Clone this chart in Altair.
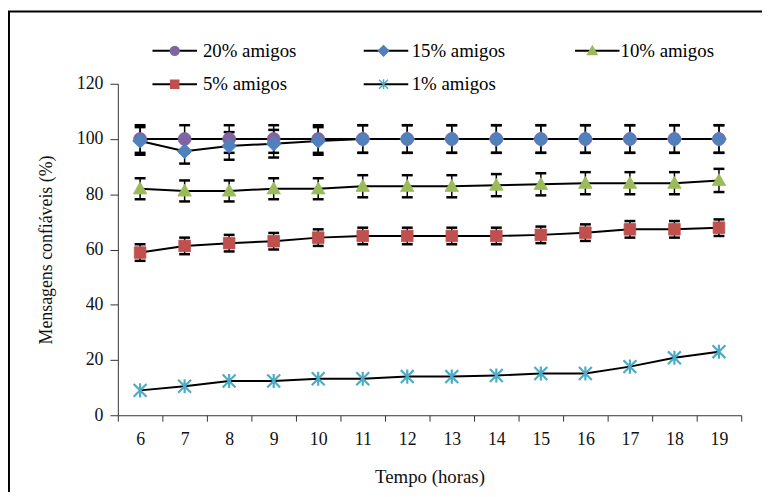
import altair as alt
import pandas as pd

# ---- data ----
horas = [6, 7, 8, 9, 10, 11, 12, 13, 14, 15, 16, 17, 18, 19]
series = ["20% amigos", "15% amigos", "10% amigos", "5% amigos", "1% amigos"]

v20 = [100, 100, 100, 100, 100, 100, 100, 100, 100, 100, 100, 100, 100, 100]
v15 = [99.3, 95.6, 97.5, 98.3, 99.3, 100, 100, 100, 100, 100, 100, 100, 100, 100]
v10 = [82.0, 81.2, 81.2, 82.0, 82.0, 82.9, 82.9, 82.9, 83.3, 83.6, 84.0, 84.0, 84.0, 85.0]
v5 = [58.9, 61.3, 62.3, 63.0, 64.3, 64.9, 64.9, 64.9, 64.9, 65.3, 66.1, 67.3, 67.3, 67.9]
v1 = [9.0, 10.5, 12.4, 12.4, 13.2, 13.2, 14.0, 14.0, 14.4, 15.1, 15.1, 17.6, 20.8, 23.0]

e20 = [5, 5, 5, 5, 5, 5, 5, 5, 5, 5, 5, 5, 5, 5]
e15 = [5, 4.5, 5, 5, 5, 5, 5, 5, 5, 5, 5, 5, 5, 5]
e10 = [3.8, 3.8, 3.8, 3.8, 3.8, 4, 4, 4, 4, 4, 4, 4, 4, 4.2]
e5 = [3, 3, 3, 3, 3, 3, 3, 3, 3, 3, 3, 3, 3, 3]
e1 = [0, 0, 0, 0, 0, 0, 0, 0, 0, 0, 0, 0, 0, 0]

cores = ["#8064A2", "#4F81BD", "#9BBB59", "#C0504D", "#4BACC6"]
formas = [
    "M0,-0.2A0.2,0.2 0 1,1 0,0.2A0.2,0.2 0 1,1 0,-0.2Z",
    "M0,-0.23L0.23,0L0,0.23L-0.23,0Z",
    "M0,-0.21L0.21,0.16L-0.21,0.16Z",
    "M-0.18,-0.18H0.18V0.18H-0.18Z",
    "M0,-0.22V0.22M-0.2,-0.2L0.2,0.2M-0.2,0.2L0.2,-0.2",
]

rows = []
for nome, vals, errs in zip(series, [v20, v15, v10, v5, v1], [e20, e15, e10, e5, e1]):
    for h, v, e in zip(horas, vals, errs):
        rows.append({"hora": h, "valor": v, "err": e, "lo": v - e, "hi": v + e,
                     "grupo": nome, "grupo2": "\u200b" + nome})
df = pd.DataFrame(rows)

FONT = "Liberation Serif"
LX, LY = 34, -57

x_enc = alt.X("hora:O", sort=horas,
              scale=alt.Scale(domain=horas, paddingInner=0, paddingOuter=0),
              axis=alt.Axis(title="Tempo (horas)", labelAngle=0, tickBand="extent",
                            tickSize=6, labelPadding=10, titlePadding=19, titleFontSize=19,
                            domainColor="#333", tickColor="#333", grid=False))
y_enc = alt.Y("valor:Q",
              scale=alt.Scale(domain=[0, 120], nice=False),
              axis=alt.Axis(title="Mensagens confiáveis (%)", values=[0, 20, 40, 60, 80, 100, 120],
                            tickSize=8, labelPadding=7, titlePadding=21,
                            domainColor="#333", tickColor="#333", grid=False))

base = alt.Chart(df)
err_df = base.transform_filter("datum.err > 0")

bars = err_df.mark_rule(color="black", strokeWidth=1.5).encode(
    x=x_enc, y=alt.Y("lo:Q"), y2="hi:Q")
cap_lo = err_df.mark_tick(color="black", thickness=2.5, size=11, opacity=1).encode(
    x=x_enc, y=alt.Y("lo:Q"))
cap_hi = err_df.mark_tick(color="black", thickness=2.5, size=11, opacity=1).encode(
    x=x_enc, y=alt.Y("hi:Q"))

legend_common = dict(orient="none", legendX=LX, legendY=LY, columns=3, padding=0,
                     direction="horizontal", symbolSize=2025, rowPadding=-1,
                     labelOffset=5, labelFont=FONT, labelFontSize=19, title=None,
                     labelLimit=300)

lines = base.mark_line(strokeWidth=2).encode(
    x=x_enc, y=y_enc,
    color=alt.Color("grupo2:N",
                    scale=alt.Scale(domain=["\u200b" + s for s in series],
                                    range=["black"] * 5),
                    legend=alt.Legend(symbolType="stroke", symbolStrokeWidth=2,
                                      labelExpr="''", columnPadding=158.5,
                                      **legend_common)),
    detail="grupo:N")

leg_marks = alt.Legend(symbolStrokeWidth=1.5, labelColor="black", columnPadding=64,
                       **legend_common)
points = base.mark_point(filled=True, opacity=1, size=4225).encode(
    x=x_enc, y=y_enc,
    fill=alt.Fill("grupo:N", scale=alt.Scale(domain=series, range=cores), legend=leg_marks),
    stroke=alt.Stroke("grupo:N", scale=alt.Scale(domain=series, range=cores), legend=leg_marks),
    shape=alt.Shape("grupo:N", scale=alt.Scale(domain=series, range=formas), legend=leg_marks),
    strokeWidth=alt.condition("datum.grupo == '1% amigos'", alt.value(2.2), alt.value(0.8)),
)

frame = alt.Chart(alt.Data(values=[{}])).mark_rect(
    fillOpacity=0, stroke="black", strokeWidth=2).encode(
    x=alt.value(-110), x2=alt.value(700), y=alt.value(-73), y2=alt.value(500))

chart = alt.layer(frame, bars, cap_lo, cap_hi, lines, points).properties(
    width=630, height=335,
    autosize=alt.AutoSizeParams(type="none"),
    padding={"left": 111, "top": 74, "right": 21, "bottom": 75},
).configure_view(strokeWidth=0).configure_axis(
    labelFont=FONT, labelFontSize=18, labelColor="#111",
    titleFont=FONT, titleFontSize=18, titleFontWeight="normal", titleColor="#111",
)

chart.save("out.html", embed_options={"renderer": "svg", "actions": False})
